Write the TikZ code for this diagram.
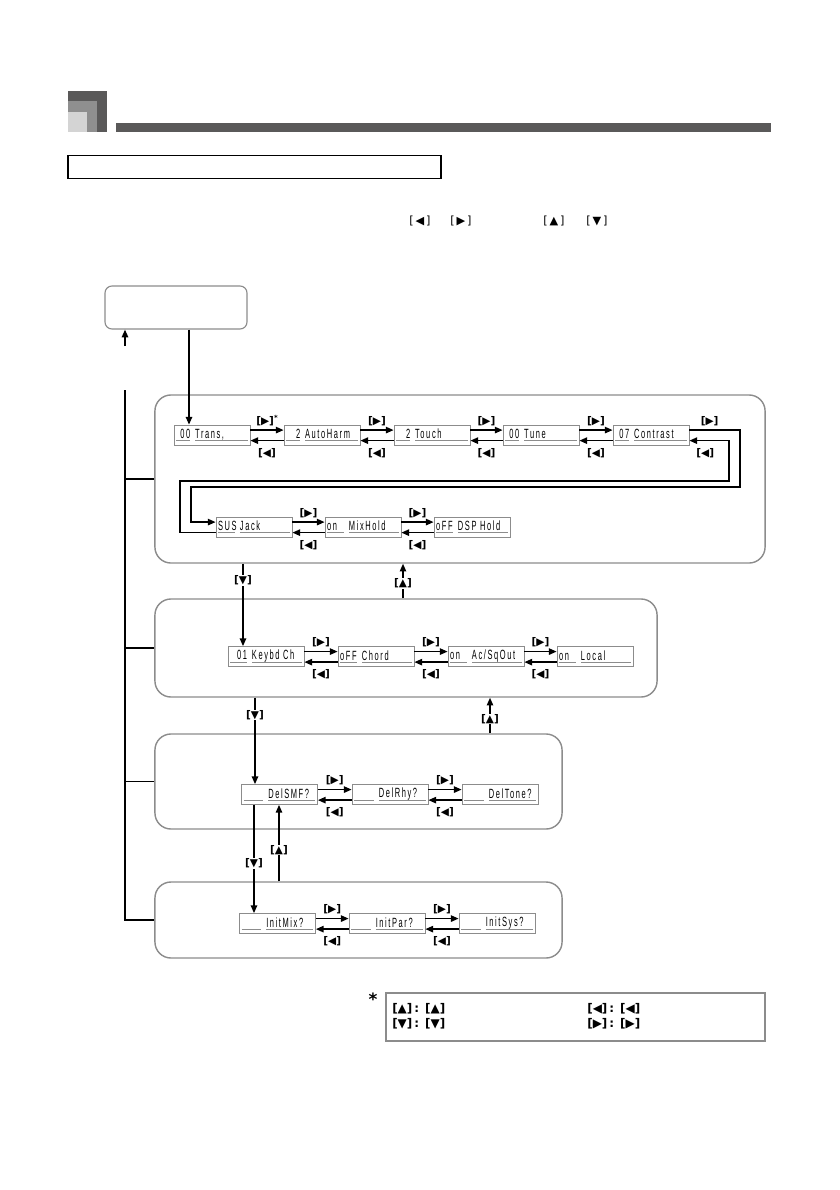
\documentclass[tikz,border=0pt]{standalone}
\usepackage{fontspec}
\usetikzlibrary{arrows.meta}
\newfontfamily\symf{DejaVu Sans}
\newfontfamily\lcdf[FakeStretch=0.56,LetterSpace=12]{Liberation Sans}
\definecolor{hdrdark}{HTML}{5A5959}
\definecolor{hdrmid}{HTML}{8F8F8F}
\definecolor{hdrlight}{HTML}{D4D4D4}
\definecolor{frame}{HTML}{8C8C8C}
\newcommand{\krt}{[▶]}
\newcommand{\klf}{[◀]}
\newcommand{\kup}{[▲]}
\newcommand{\kdn}{[▼]}
\newcommand{\fld}[3]{\rlap{\color{frame}\rule[-1.8pt]{#1}{0.5pt}}\makebox[#1][#2]{#3}}
\newcommand{\lcd}[4]{\fld{#1}{#2}{#3}\hspace{3.5pt}\fld{\dimexpr 47.5pt-#1\relax}{l}{#4}}
\begin{document}
\begin{tikzpicture}[x=0.025cm, y=-0.025cm,
  disp/.style={draw=frame, line width=0.5pt, minimum width=1.9cm, minimum height=0.5cm, inner sep=0pt, font=\lcdf\fontsize{9.5}{10}\selectfont},
  secbox/.style={draw=frame, line width=1pt, rounded corners=0.4cm, inner sep=0pt},
  arr/.style={-{Triangle[length=5.5pt,width=4.5pt]}, line width=1.1pt},
  key/.style={font=\symf\bfseries\fontsize{7.5}{8}\selectfont, inner sep=0.5pt},
  note/.style={anchor=west, font=\symf\bfseries\fontsize{8.5}{9}\selectfont, inner sep=0pt},
  bus/.style={line width=1.1pt}]
\useasboundingbox (0,0) rectangle (840,1190);
\fill[white] (0,0) rectangle (840,1190);
% header
\fill[hdrdark] (68,91) rectangle (107,131.5);
\fill[hdrmid] (68,101) rectangle (97,131.5);
\fill[hdrlight] (68,112) rectangle (87,131.5);
\fill[hdrdark] (116,123) rectangle (771,131.5);
\draw[line width=1.4pt] (68,155.5) rectangle (441,178.5);
\node[key, font=\symf\fontsize{8}{9}\selectfont] (hl) at (420,221) {[\,◀\,]};
\node[key, font=\symf\fontsize{8}{9}\selectfont] (hr) at (461,221) {[\,▶\,]};
\node[key, font=\symf\fontsize{8}{9}\selectfont] (hu) at (554,221) {[\,▲\,]};
\node[key, font=\symf\fontsize{8}{9}\selectfont] (hd) at (597,221) {[\,▼\,]};
% start box and sections
\node[draw=frame, line width=0.8pt, rounded corners=5pt, minimum width=3.55cm, minimum height=1.075cm] (menu) at (176,307.5) {};
\node[secbox, minimum width=15.25cm, minimum height=4.2cm] (sec1) at (460,479) {};
\node[secbox, minimum width=12.55cm, minimum height=2.45cm] (sec2) at (406,648) {};
\node[secbox, minimum width=10.175cm, minimum height=2.375cm] (sec3) at (358.5,781.5) {};
\node[secbox, minimum width=10.175cm, minimum height=1.9cm] (sec4) at (358.5,920) {};
% displays
\node[disp] (trans) at (212,435) {\lcd{10pt}{r}{00}{Trans,}};
\node[disp] (harm) at (322,435) {\lcd{10pt}{r}{2}{AutoHarm}};
\node[disp] (touch) at (432,435) {\lcd{10pt}{r}{2}{Touch}};
\node[disp] (tune) at (541,435) {\lcd{10pt}{r}{00}{Tune}};
\node[disp] (contrast) at (651,435) {\lcd{10pt}{r}{07}{Contrast}};
\node[disp] (sus) at (254,527) {\lcd{12pt}{l}{SUS}{Jack}};
\node[disp] (mixhold) at (363,527) {\lcd{12pt}{l}{on}{MixHold}};
\node[disp] (dsphold) at (472,527) {\lcd{12pt}{l}{oFF}{DSP Hold}};
\node[disp] (keybd) at (266,656.5) {\lcd{12pt}{r}{01}{Keybd Ch}};
\node[disp] (chord) at (376,656.5) {\lcd{12pt}{l}{oFF}{Chord}};
\node[disp] (acsq) at (486,656.5) {\lcd{12pt}{l}{on}{Ac/SqOut}};
\node[disp] (local) at (595,656.5) {\lcd{12pt}{l}{on}{Local}};
\node[disp] (delsmf) at (279.5,794.5) {\lcd{14pt}{l}{}{DelSMF?}};
\node[disp] (delrhy) at (390,794.5) {\lcd{14pt}{l}{}{DelRhy?}};
\node[disp] (deltone) at (500,794.5) {\lcd{14pt}{l}{}{DelTone?}};
\node[disp] (initmix) at (277.5,923.5) {\lcd{14pt}{l}{}{InitMix?}};
\node[disp] (initpar) at (387,923.5) {\lcd{14pt}{l}{}{InitPar?}};
\node[disp] (initsys) at (497,923.5) {\lcd{14pt}{l}{}{InitSys?}};
% row links
\draw[arr] ([yshift=3.5pt]trans.east) -- node[key, above=2pt] {\krt\raisebox{2.5pt}{\fontsize{5}{5}\selectfont*}} ([yshift=3.5pt]harm.west);
\draw[arr] ([yshift=-4pt]harm.west) -- node[key, below=4.5pt] {\klf} ([yshift=-4pt]trans.east);
\draw[arr] ([yshift=3.5pt]harm.east) -- node[key, above=2pt] {\krt} ([yshift=3.5pt]touch.west);
\draw[arr] ([yshift=-4pt]touch.west) -- node[key, below=4.5pt] {\klf} ([yshift=-4pt]harm.east);
\draw[arr] ([yshift=3.5pt]touch.east) -- node[key, above=2pt] {\krt} ([yshift=3.5pt]tune.west);
\draw[arr] ([yshift=-4pt]tune.west) -- node[key, below=4.5pt] {\klf} ([yshift=-4pt]touch.east);
\draw[arr] ([yshift=3.5pt]tune.east) -- node[key, above=2pt] {\krt} ([yshift=3.5pt]contrast.west);
\draw[arr] ([yshift=-4pt]contrast.west) -- node[key, below=4.5pt] {\klf} ([yshift=-4pt]tune.east);
\draw[arr] ([yshift=3.5pt]contrast.east) -| node[key, above=2pt, pos=0.2] {\krt} (740,487) -- (191,487) |- ([yshift=3.5pt]sus.west);
\draw[arr] ([yshift=-4pt]sus.west) -| (180,481) -- (729,481) |- node[key, below=4.5pt, pos=0.8] {\klf} ([yshift=-4pt]contrast.east);
\draw[arr] ([yshift=3.5pt]sus.east) -- node[key, above=2pt] {\krt} ([yshift=3.5pt]mixhold.west);
\draw[arr] ([yshift=-4pt]mixhold.west) -- node[key, below=4.5pt] {\klf} ([yshift=-4pt]sus.east);
\draw[arr] ([yshift=3.5pt]mixhold.east) -- node[key, above=2pt] {\krt} ([yshift=3.5pt]dsphold.west);
\draw[arr] ([yshift=-4pt]dsphold.west) -- node[key, below=4.5pt] {\klf} ([yshift=-4pt]mixhold.east);
\draw[arr] ([yshift=3.5pt]keybd.east) -- node[key, above=2pt] {\krt} ([yshift=3.5pt]chord.west);
\draw[arr] ([yshift=-4pt]chord.west) -- node[key, below=4.5pt] {\klf} ([yshift=-4pt]keybd.east);
\draw[arr] ([yshift=3.5pt]chord.east) -- node[key, above=2pt] {\krt} ([yshift=3.5pt]acsq.west);
\draw[arr] ([yshift=-4pt]acsq.west) -- node[key, below=4.5pt] {\klf} ([yshift=-4pt]chord.east);
\draw[arr] ([yshift=3.5pt]acsq.east) -- node[key, above=2pt] {\krt} ([yshift=3.5pt]local.west);
\draw[arr] ([yshift=-4pt]local.west) -- node[key, below=4.5pt] {\klf} ([yshift=-4pt]acsq.east);
\draw[arr] ([yshift=3.5pt]delsmf.east) -- node[key, above=2pt] {\krt} ([yshift=3.5pt]delrhy.west);
\draw[arr] ([yshift=-4pt]delrhy.west) -- node[key, below=4.5pt] {\klf} ([yshift=-4pt]delsmf.east);
\draw[arr] ([yshift=3.5pt]delrhy.east) -- node[key, above=2pt] {\krt} ([yshift=3.5pt]deltone.west);
\draw[arr] ([yshift=-4pt]deltone.west) -- node[key, below=4.5pt] {\klf} ([yshift=-4pt]delrhy.east);
\draw[arr] ([yshift=3.5pt]initmix.east) -- node[key, above=2pt] {\krt} ([yshift=3.5pt]initpar.west);
\draw[arr] ([yshift=-4pt]initpar.west) -- node[key, below=4.5pt] {\klf} ([yshift=-4pt]initmix.east);
\draw[arr] ([yshift=3.5pt]initpar.east) -- node[key, above=2pt] {\krt} ([yshift=3.5pt]initsys.west);
\draw[arr] ([yshift=-4pt]initsys.west) -- node[key, below=4.5pt] {\klf} ([yshift=-4pt]initpar.east);
% between sections
\draw[arr] (menu.south -| 189,0) -- (trans.north -| 189,0);
\draw[arr] (sec1.south -| 243,0) -- node[key, fill=white, pos=0.2] {\kdn} (keybd.north -| 243,0);
\draw[arr] (sec2.north -| 403,0) -- node[key, fill=white, pos=0.43] {\kup} (sec1.south -| 403,0);
\draw[arr] (sec2.south -| 255,0) -- node[key, fill=white, pos=0.2] {\kdn} (delsmf.north -| 255,0);
\draw[arr] (sec3.north -| 490,0) -- node[key, fill=white, pos=0.4] {\kup} (sec2.south -| 490,0);
\draw[arr] (delsmf.south -| 254,0) -- node[key, fill=white, pos=0.54] {\kdn} (initmix.north -| 254,0);
\draw[arr] (sec4.north -| 279,0) -- node[key, fill=white, pos=0.41] {\kup} (delsmf.south -| 279,0);
% return bus
\coordinate (ret) at (125,346);
\draw[arr] (ret) -- (ret |- menu.south);
\draw[bus] (125,390) |- (sec4.west);
\draw[bus] (125,479) -- (sec1.west);
\draw[bus] (125,648) -- (sec2.west);
\draw[bus] (125,781.5) -- (sec3.west);
% note
\node[font=\symf\bfseries\fontsize{12}{12}\selectfont, inner sep=0pt] (star) at (373,999) {*};
\node[draw=frame, line width=0.8pt, minimum width=9.475cm, minimum height=1.2cm] (notebox) at (575.5,1017) {};
\node[note] (nup) at (392,1009) {[▲]\,:\enspace[▲]};
\node[note] (ndn) at (392,1024) {[▼]\,:\enspace[▼]};
\node[note] (nlf) at (587,1009) {[◀]\,:\enspace[◀]};
\node[note] (nrt) at (587,1024) {[▶]\,:\enspace[▶]};
\end{tikzpicture}
\end{document}
